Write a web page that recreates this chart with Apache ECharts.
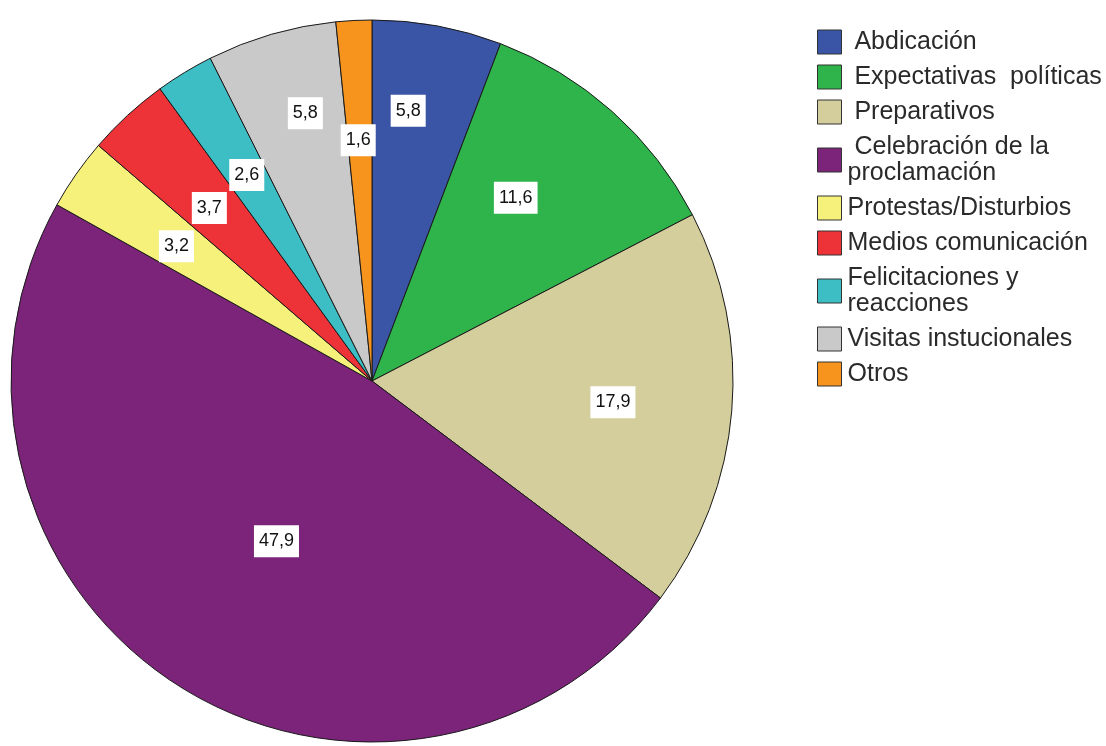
<!DOCTYPE html>
<html>
<head>
<meta charset="utf-8">
<script src="https://cdn.jsdelivr.net/npm/echarts@6/dist/echarts.min.js"></script>
<style>
html,body{margin:0;padding:0;background:#fff;}
#main{width:1106px;height:746px;}
</style>
</head>
<body>
<div id="main"></div>
<script>
// ---- data ----
var categories = [
  'Abdicación',
  'Expectativas  políticas',
  'Preparativos',
  'Celebración de la\nproclamación',
  'Protestas/Disturbios',
  'Medios comunicación',
  'Felicitaciones y\nreacciones',
  'Visitas instucionales',
  'Otros'
];
var values = [5.8, 11.6, 17.9, 47.9, 3.2, 3.7, 2.6, 5.8, 1.6];

// ---- styles ----
var colors = ['#3a55a5', '#2fb34b', '#d3ce9b', '#7b2479', '#f6f17a', '#ee3338', '#3dbec5', '#c9c9c9', '#f7941e'];
var labelRadiusFrac = [0.755, 0.645, 0.67, 0.517, 0.658, 0.658, 0.668, 0.764, 0.668];
var labelAngleOffsetDeg = [-2.8, -3.6, 0.3, -2.3, -0.4, -0.6, 0, 2.2, -0.4];
var legendLeadSpace = [true, true, true, true, false, false, false, false, false];

var CX = 372, CY = 381, R = 361;

var chart = echarts.init(document.getElementById('main'), null, {renderer: 'canvas'});

var pieData = categories.map(function (c, i) {
  return { name: c, value: values[i], itemStyle: { color: colors[i] } };
});

chart.setOption({
  animation: false,
  backgroundColor: '#ffffff',
  legend: {
    orient: 'vertical',
    left: 817,
    top: 29,
    padding: 0,
    itemWidth: 24,
    itemHeight: 24,
    itemGap: 9,
    icon: 'rect',
    itemStyle: { borderColor: '#333', borderWidth: 1 },
    textStyle: {
      fontFamily: '"Liberation Sans", Arial, sans-serif',
      fontSize: 25,
      lineHeight: 26,
      color: '#2a2a2a',
      padding: [0, 0, 0, 1]
    },
    formatter: function (name) {
      var i = categories.indexOf(name);
      return (legendLeadSpace[i] ? ' ' : '') + name;
    },
    data: categories
  },
  series: [{
    type: 'pie',
    center: [CX, CY],
    radius: [0, R],
    startAngle: 90,
    clockwise: true,
    silent: true,
    itemStyle: { borderColor: '#1a1a1a', borderWidth: 1 },
    label: {
      show: true,
      position: 'inside',
      fontFamily: '"Liberation Sans", Arial, sans-serif',
      fontSize: 18,
      lineHeight: 20,
      color: '#111',
      backgroundColor: '#ffffff',
      padding: [6, 5],
      formatter: function (p) {
        return String(p.value.toFixed(1)).replace('.', ',');
      }
    },
    labelLine: { show: false },
    labelLayout: function (params) {
      var r = params.labelRect;
      var lx = r.x + r.width / 2, ly = r.y + r.height / 2;
      var i = params.dataIndex;
      var phi = Math.atan2(ly - CY, lx - CX) + labelAngleOffsetDeg[i] * Math.PI / 180;
      var rr = labelRadiusFrac[i] * R;
      return { x: CX + rr * Math.cos(phi), y: CY + rr * Math.sin(phi) };
    },
    data: pieData
  }]
});
</script>
</body>
</html>
